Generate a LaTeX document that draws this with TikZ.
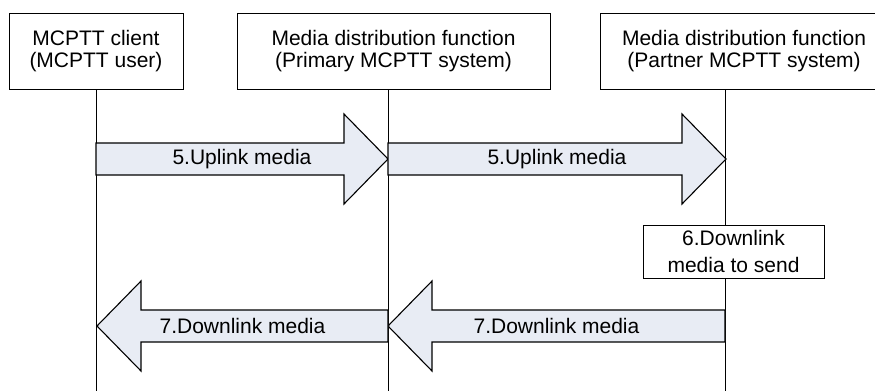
\documentclass[tikz,border=0pt]{standalone}
\usepackage{fontspec}
\setmainfont{Liberation Sans}
\usetikzlibrary{calc,positioning}
\definecolor{mediafill}{RGB}{232,236,244}

% wide block arrow between two lifeline points, with its label
\newcommand{\mediaarrow}[3]{%
  \coordinate (hb) at ($(#2)!44pt!(#1)$);
  \draw[fat] ($(#1)+(0,-16)$) -- ($(hb)+(0,-16)$) -- ($(hb)+(0,-45)$) -- (#2)
    -- ($(hb)+(0,45)$) -- ($(hb)+(0,16)$) -- ($(#1)+(0,16)$) -- cycle;
  \node[lbl] at ($(#1)!0.5!(#2)$) {#3};}

\begin{document}
\begin{tikzpicture}[x=1pt, y=-1pt,
  entity/.style={draw, line width=1pt, fill=white, align=center, inner sep=0pt,
    minimum height=76pt, font=\fontsize{21}{22}\selectfont},
  lifeline/.style={line width=1pt},
  fat/.style={draw, line width=1.1pt, fill=mediafill, line join=miter},
  lbl/.style={font=\fontsize{21}{22}\selectfont, inner sep=0pt},
]
\useasboundingbox (0,0) rectangle (875,391);

% entities
\node[entity, minimum width=174pt] (client) at (96,51) {MCPTT client\\(MCPTT user)};
\node[entity, minimum width=313pt] (mdfprim) at (393.5,51) {Media distribution function\\(Primary MCPTT system)};
\node[entity, minimum width=288pt] (mdfpart) at (744,51) {Media distribution function\\(Partner MCPTT system)};

% lifelines
\coordinate (ll1) at (96,391);
\coordinate (ll2) at (388,391);
\coordinate (ll3) at (725,391);
\draw[lifeline] (ll1 |- client.south) -- (ll1);
\draw[lifeline] (ll2 |- mdfprim.south) -- (ll2);
\draw[lifeline] (ll3 |- mdfpart.south) -- (ll3);

% step 6
\node[entity, minimum width=181pt, minimum height=53pt,
  font=\fontsize{21}{27}\selectfont] (dlsend) at (733.5,251.5) {6.Downlink\\media to send};

% media flows
\coordinate (up1) at (96,159);
\coordinate (up2) at (388,159);
\coordinate (up3) at (726,159);
\coordinate (dn1) at (97,326);
\coordinate (dn2) at (388,326);
\coordinate (dn3) at (725,326);
\mediaarrow{up1}{up2}{5.Uplink media}
\mediaarrow{up2}{up3}{5.Uplink media}
\mediaarrow{dn3}{dn2}{7.Downlink media}
\mediaarrow{dn2}{dn1}{7.Downlink media}
\end{tikzpicture}
\end{document}
